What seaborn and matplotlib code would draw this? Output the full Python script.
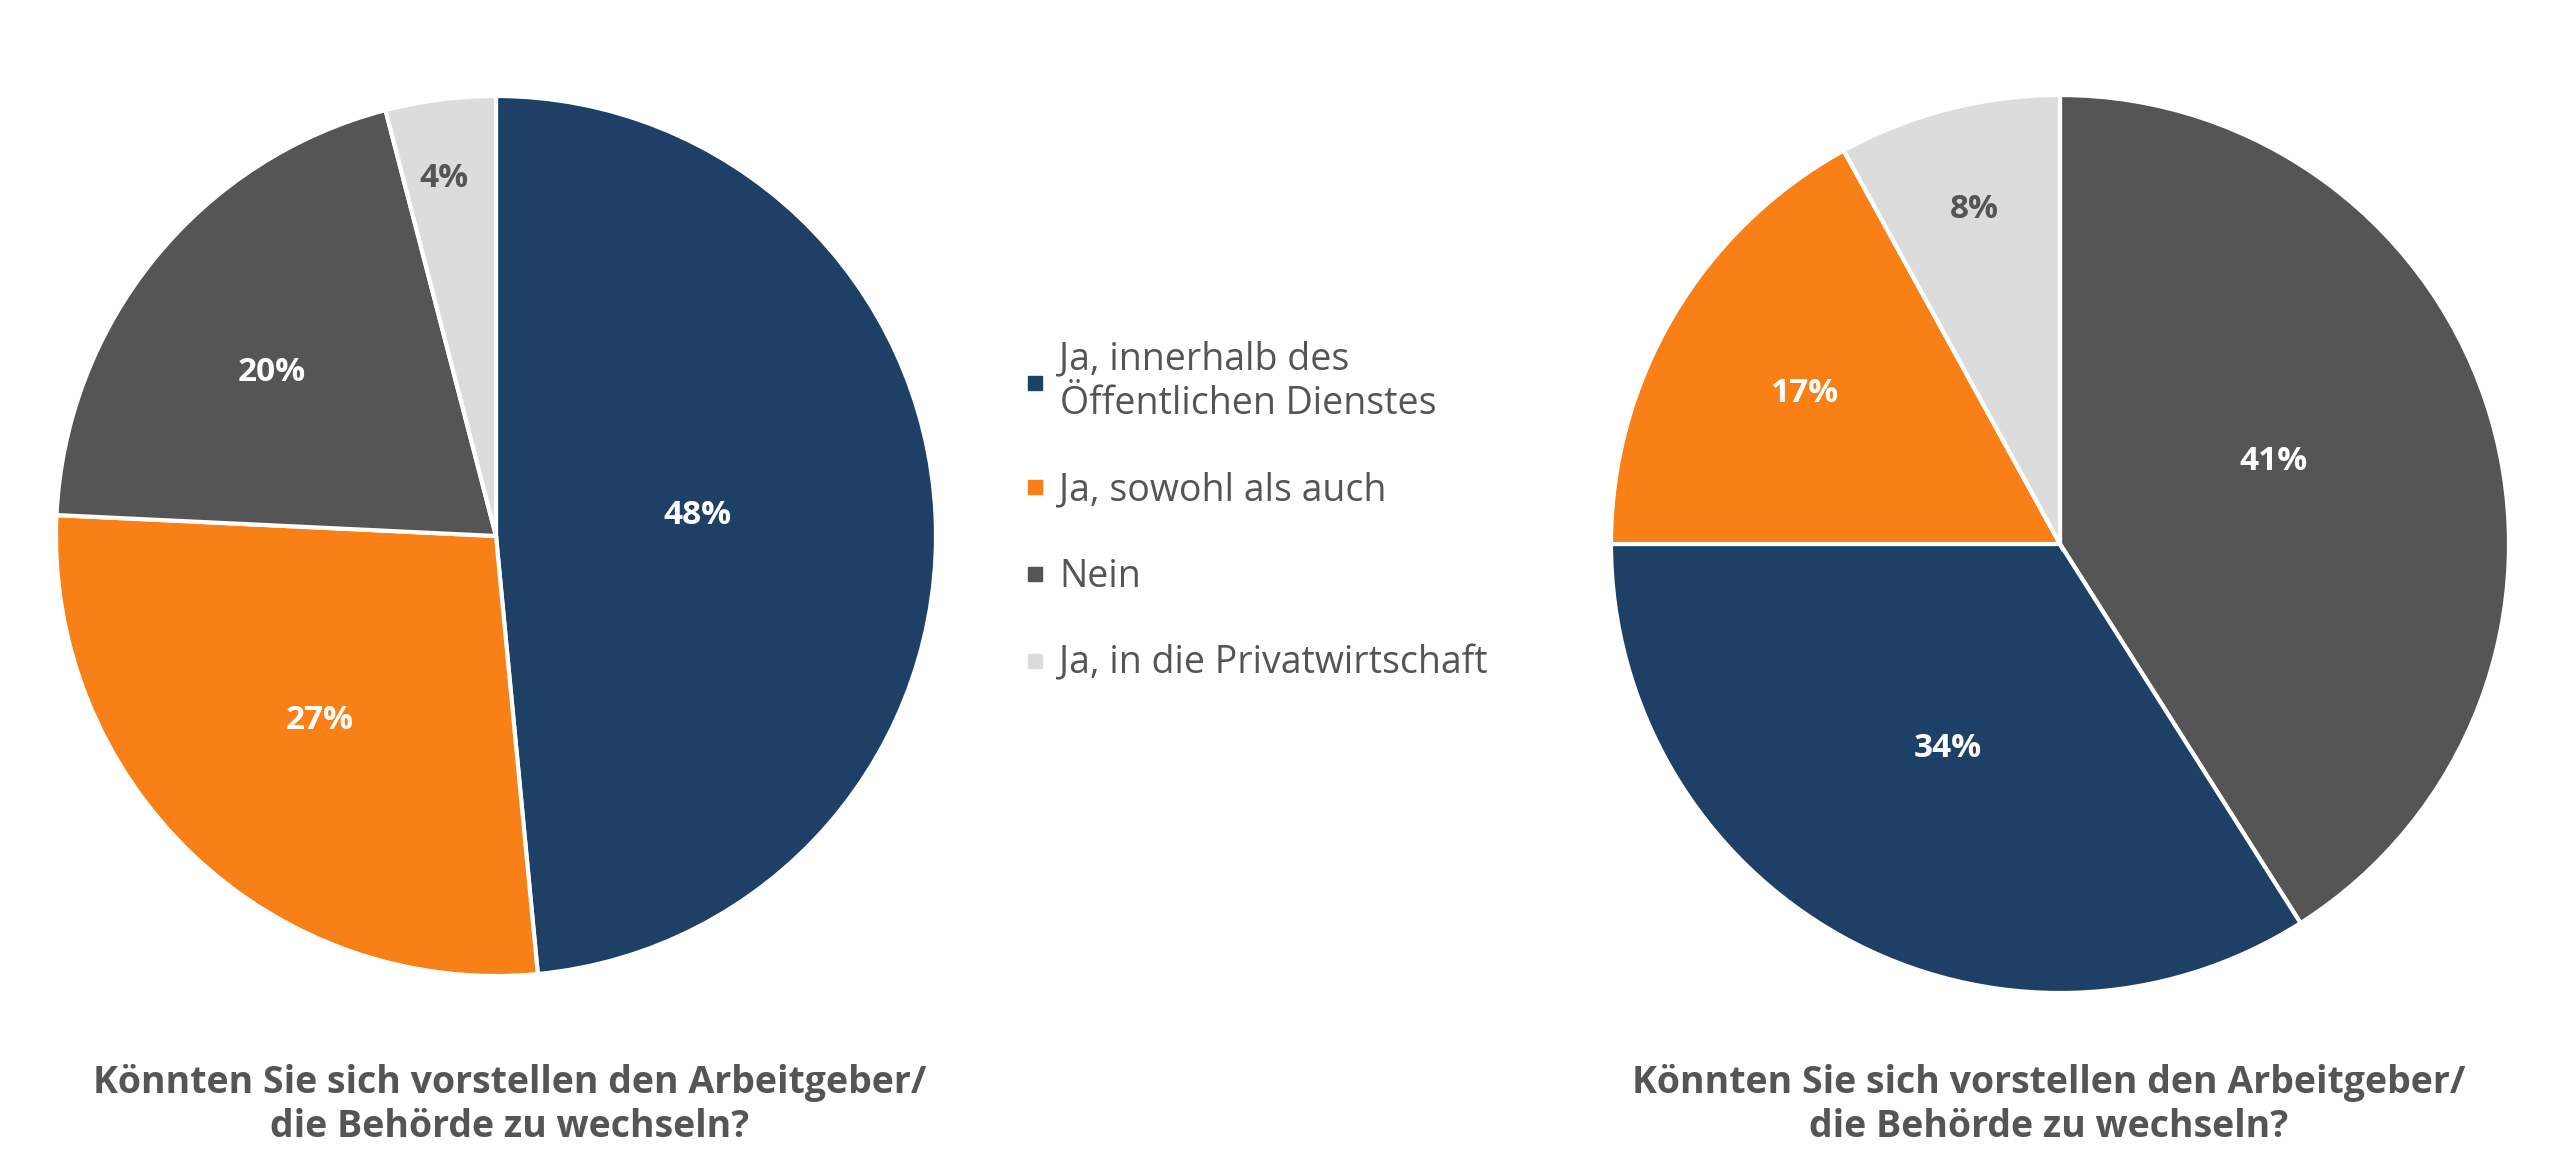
import numpy as np
import matplotlib
matplotlib.use('Agg')
import matplotlib.pyplot as plt
from matplotlib.lines import Line2D
import seaborn as sns

# ── data ────────────────────────────────────────────────────────────────
CATEGORIES = ['Ja, innerhalb des\nÖffentlichen Dienstes',
              'Ja, sowohl als auch',
              'Nein',
              'Ja, in die Privatwirtschaft']

LEFT_ORDER  = [0, 1, 2, 3]
LEFT_VALUES = [48, 27, 20, 4]

RIGHT_ORDER  = [2, 0, 1, 3]
RIGHT_VALUES = [41, 34, 17, 8]

TITLE = 'Könnten Sie sich vorstellen den Arbeitgeber/\ndie Behörde zu wechseln?'

# ── style ───────────────────────────────────────────────────────────────
COLORS     = ['#1f4066', '#f97f17', '#555555', '#dcdcdc']
TXT_COLORS = ['white', 'white', 'white', '#555555']
TEXT_GRAY  = '#555555'
W, H = 2560, 1169

sns.set_theme(style='white')
plt.rcParams['font.family'] = ['Open Sans', 'DejaVu Sans']


def draw_pie(ax, order, values, dists, shifts):
    cols = [COLORS[i] for i in order]
    wedges, _ = ax.pie(values, colors=cols, startangle=90, counterclock=False,
                       wedgeprops=dict(edgecolor='white', linewidth=3))
    for w, v, i, d, s in zip(wedges, values, order, dists, shifts):
        ang = np.deg2rad((w.theta1 + w.theta2) / 2 + s)
        ax.text(d * np.cos(ang), d * np.sin(ang), f'{v}%',
                ha='center', va='center', fontsize=24, fontweight='bold',
                color=TXT_COLORS[i])
    ax.set_xlim(-1.01, 1.01)
    ax.set_ylim(-1.01, 1.01)
    ax.set_aspect('equal')
    ax.axis('off')


def pie_axes(fig, cx, cy, r):
    r = r * 1.01
    return fig.add_axes([(cx - r) / W, (H - cy - r) / H, 2 * r / W, 2 * r / H])


fig = plt.figure(figsize=(W / 100, H / 100), dpi=100)

ax_l = pie_axes(fig, 496, 536, 440)
draw_pie(ax_l, LEFT_ORDER, LEFT_VALUES,
         [0.46, 0.58, 0.63, 0.82], [3, 0, 3, 1])

ax_r = pie_axes(fig, 2060, 544, 449)
draw_pie(ax_r, RIGHT_ORDER, RIGHT_VALUES,
         [0.51, 0.52, 0.66, 0.77], [5, 0, 0, 0])

for cx in (510, 2049):
    fig.text(cx / W, 1 - 1105 / H, TITLE, ha='center', va='center',
             fontsize=27, fontweight='bold', color=TEXT_GRAY, linespacing=1.2)

handles = [Line2D([], [], marker='s', linestyle='', markersize=10,
                  markerfacecolor=c, markeredgecolor=c) for c in COLORS]
leg = fig.legend(handles, CATEGORIES, loc='upper left',
                 bbox_to_anchor=(1007 / W, 1 - 322 / H), frameon=False,
                 fontsize=27, labelspacing=1.3, handlelength=0.5,
                 handletextpad=0.4, borderpad=0)
for t in leg.get_texts():
    t.set_color(TEXT_GRAY)
    t.set_linespacing(1.2)

fig.savefig('out.png', dpi=100, facecolor='white')
